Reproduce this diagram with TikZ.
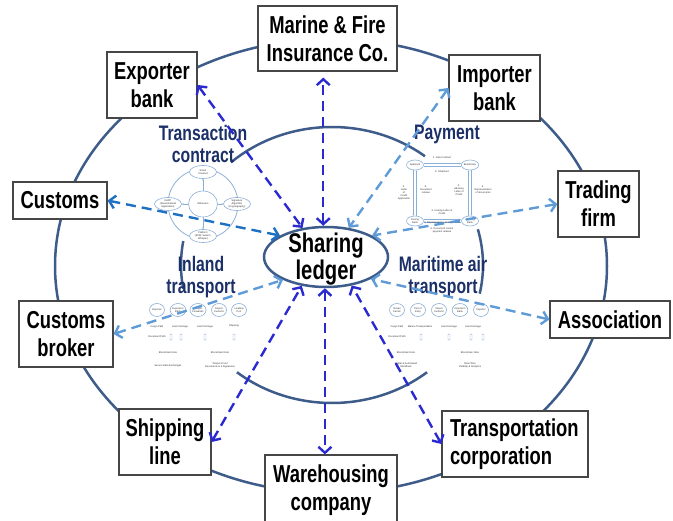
\documentclass[tikz,border=0pt]{standalone}
\usepackage{fontspec}
\setmainfont{Liberation Sans}[FakeStretch=0.75]
\newfontfamily\smallf{Liberation Sans}
\usetikzlibrary{arrows.meta,shapes.geometric}
\definecolor{dkblue}{RGB}{42,42,208}
\definecolor{mdblue}{RGB}{30,112,192}
\definecolor{ltblue}{RGB}{95,155,215}
\definecolor{ring}{RGB}{62,92,138}
\definecolor{navy}{RGB}{28,48,104}
\definecolor{pale}{RGB}{140,175,215}
\definecolor{boxline}{RGB}{70,70,70}
\newcommand\innerarc[2]{\draw[ring,line width=2.5pt] ([shift={(#1:151pt and 138pt)}]332,265) arc[start angle=#1,end angle=#2,x radius=151pt,y radius=138pt];}
\begin{document}
\begin{tikzpicture}[x=1pt,y=-1pt,
  box/.style={draw=boxline,line width=1.1pt,fill=white,font=\bfseries\fontsize{24.5}{28}\selectfont,align=center,inner sep=0pt},
  conn/.style={line width=2.4pt,dash pattern=on 10pt off 6pt,{Straight Barb[length=6pt,width=13pt]}-{Straight Barb[length=6pt,width=13pt]}},
  title/.style={text=navy,font=\bfseries\fontsize{21}{22}\selectfont,align=center,inner sep=0pt},
  sm/.style={font=\smallf\fontsize{2.5}{2.9}\selectfont,text=black!80,align=center,inner sep=0pt},
  sme/.style={sm,draw=pale,line width=0.6pt,ellipse,fill=white},
  circ/.style={sme,minimum width=15pt,minimum height=13pt},
  pe/.style={sme,minimum width=17pt,minimum height=10pt},
  thin/.style={pale,line width=0.5pt,-{Stealth[length=1.8pt,width=1.8pt]}},
  doc/.style={draw=pale,line width=0.4pt,rounded corners=0.5pt,minimum width=2pt,minimum height=6pt,inner sep=0pt}
]
\useasboundingbox (0,0) rectangle (673,521);
\clip (0,0) rectangle (673,521);
% outer ring
\draw[ring,line width=2.5pt] (331,266) ellipse [x radius=276pt,y radius=227pt];
% inner ring pieces
\innerarc{52}{132}
\innerarc{170}{190}
\innerarc{-12}{15}
\innerarc{231}{309}

% ---- Transaction contract diagram
\draw[pale,line width=0.8pt] (203,204) circle[radius=35pt];
\node[sme,minimum width=29pt,minimum height=26pt] (eth) at (203,204) {Ethereum};
\node[sme,minimum width=27pt,minimum height=13pt] (smc) at (203,172) {Smart\\Contract};
\node[sme,minimum width=27pt,minimum height=13pt] (dapp) at (168,204) {DAPP\\(Decentralized\\Application)};
\node[sme,minimum width=27pt,minimum height=13pt] (sig) at (237,204) {Signature\\Algorithm\\(Cryptography)};
\node[sme,minimum width=27pt,minimum height=13pt] (plat) at (203,236) {Platform\\(EVM, Swarm,\\Whisper)};
\draw[thin] (eth) -- (smc);
\draw[thin] (eth) -- (dapp);
\draw[thin] (eth) -- (sig);
\draw[thin] (eth) -- (plat);

% ---- Payment diagram
\node[pe] (app) at (415,165) {Applicant};
\node[pe] (ben) at (470,165) {Beneficiary};
\node[pe] (iss) at (415,221) {Issuing\\Bank};
\node[pe] (adv) at (470,221) {Advising\\Bank};
\draw[thin] ([yshift=1.5pt]app.east) -- ([yshift=1.5pt]ben.west);
\draw[thin] ([yshift=-1.5pt]ben.west) -- ([yshift=-1.5pt]app.east);
\draw[thin] ([xshift=-1.5pt]app.south) -- ([xshift=-1.5pt]iss.north);
\draw[thin] ([xshift=1.5pt]iss.north) -- ([xshift=1.5pt]app.south);
\draw[thin] ([xshift=-1.5pt]adv.north) -- ([xshift=-1.5pt]ben.south);
\draw[thin] ([xshift=1.5pt]ben.south) -- ([xshift=1.5pt]adv.north);
\draw[thin] ([yshift=1.5pt]iss.east) -- ([yshift=1.5pt]adv.west);
\draw[thin] ([yshift=-1.5pt]adv.west) -- ([yshift=-1.5pt]iss.east);
\node[sm] (p1) at (442,158) {1. Sale Contract};
\node[sm] (p9) at (442,172) {9. Shipment};
\node[sm] (p2) at (404,193) {2.\\Letter\\of\\Credit\\Application};
\node[sm] (p8) at (426,190) {8.\\Document\\release};
\node[sm] (p4) at (459,190) {4.\\Advising\\Letter of\\Credit};
\node[sm] (p6) at (483,190) {6.\\Representation\\of documents};
\node[sm] (p3) at (442,212) {3. Issuing Letter of\\Credit};
\node[sm] (p7) at (442,223) {7. Representation of documents};
\node[sm] (p10) at (442,230) {8. Document control\\payment release};

% ---- Inland transport diagram
\node[circ] (i1) at (157,310) {Exporter};
\node[circ] (i2) at (178,310) {Exporter's\\Bank};
\node[circ] (i3) at (198,310) {Freight\\Forwarder};
\node[circ] (i4) at (219,310) {Export\\Customs};
\node[circ] (i5) at (239,310) {Loading\\Port};
\node[sm] (ic1) at (157,327) {Cargo Path};
\node[sm] (ic2) at (180,327) {Land Carriage};
\node[sm] (ic3) at (205,327) {Land Carriage};
\node[sm] (ic4) at (234,326) {Shipping};
\node[sm] (id) at (157,337) {Document Path};
\node[doc] (id1) at (171,337) {};
\node[doc] (id2) at (181,337) {};
\node[doc] (id3) at (205,337) {};
\node[doc] (id4) at (234,337) {};
\node[sm] (ib1) at (168,353) {Blockchain Note};
\node[sm] (ib2) at (220,353) {Blockchain Note};
\node[sm] (is1) at (168,366) {Secure Data Exchanges};
\node[sm] (is2) at (220,365) {Tamper-Proof\\Documents \& e-Signatures};

% ---- Maritime air transport diagram
\node[circ] (m1) at (397,310) {Ocean\\Carrier};
\node[circ] (m2) at (418,310) {Port of\\Entry};
\node[circ] (m3) at (439,310) {Import\\Customs};
\node[circ] (m4) at (460,310) {Importer's\\Bank};
\node[circ] (m5) at (481,310) {Importer};
\node[sm] (mc1) at (397,327) {Cargo Path};
\node[sm] (mc2) at (420,327) {Marine Transportation};
\node[sm] (mc3) at (449,327) {Land Carriage};
\node[sm] (mc4) at (473,327) {Land Carriage};
\node[sm] (md) at (397,337) {Document Path};
\node[doc] (md1) at (421,337) {};
\node[doc] (md2) at (449,337) {};
\node[doc] (md3) at (471,337) {};
\node[doc] (md4) at (483,337) {};
\node[sm] (mb1) at (406,353) {Blockchain Note};
\node[sm] (mb2) at (470,353) {Blockchain Note};
\node[sm] (ms1) at (406,365) {Digital \& Automated\\Workflows};
\node[sm] (ms2) at (470,365) {Real-Time\\Visibility \& Analytics};

% ---- titles
\node[title] (t1) at (203,144) {Transaction\\contract};
\node[title] (t2) at (447,134) {Payment};
\node[title] (t3) at (201,277) {Inland\\transport};
\node[title] (t4) at (443,277) {Maritime air\\transport};

% ---- central ledger
\node[draw=ring,line width=2.5pt,fill=white,ellipse,minimum width=124pt,minimum height=60pt,inner sep=0pt] (ledger) at (326,257) {};
\node[font=\bfseries\fontsize{27}{23}\selectfont,align=center,inner sep=0pt] (ledgertxt) at (326,259) {Sharing\\ledger};

% ---- boxes
\node[box,minimum width=139pt,minimum height=65pt] (marine) at (327.5,38.5) {Marine \& Fire\\Insurance Co.};
\node[box,minimum width=90pt,minimum height=66pt] (exp) at (152,85) {Exporter\\bank};
\node[box,minimum width=91pt,minimum height=66pt] (imp) at (494.5,88) {Importer\\bank};
\node[box,minimum width=94pt,minimum height=37pt] (cus) at (60,200.5) {Customs};
\node[box,minimum width=81pt,minimum height=66pt] (trade) at (598.5,204) {Trading\\firm};
\node[box,minimum width=94pt,minimum height=66pt] (cbrok) at (66,334) {Customs\\broker};
\node[box,minimum width=120pt,minimum height=37pt] (assoc) at (610,319.5) {Association};
\node[box,minimum width=92pt,minimum height=66pt] (ship) at (165,442) {Shipping\\line};
\node[box,minimum width=132pt,minimum height=70pt] (ware) at (331,490) {Warehousing\\company};
\node[box,minimum width=146pt,minimum height=66pt,align=left,text width=130pt] (trans) at (515,444) {Transportation\\corporation};

% ---- connectors
\draw[conn,dkblue] (exp.east) -- (ledger.129);
\draw[conn,dkblue,shorten >=6pt] (ledger.95) -- (ledger.95 |- marine.south);
\draw[conn,ltblue] (imp.west) -- (ledger.52);
\draw[conn,mdblue] (cus.east) -- (ledger.155);
\draw[conn,ltblue] (trade.west) -- (ledger.25);
\draw[conn,ltblue] (cbrok.east) -- (ledger.208);
\draw[conn,ltblue] (assoc.west) -- (ledger.334);
\draw[conn,dkblue] (ship.east) -- (ledger.230);
\draw[conn,dkblue] (ledger.268) -- (ledger.268 |- ware.north);
\draw[conn,dkblue] (trans.west) -- (ledger.312);
\end{tikzpicture}
\end{document}
